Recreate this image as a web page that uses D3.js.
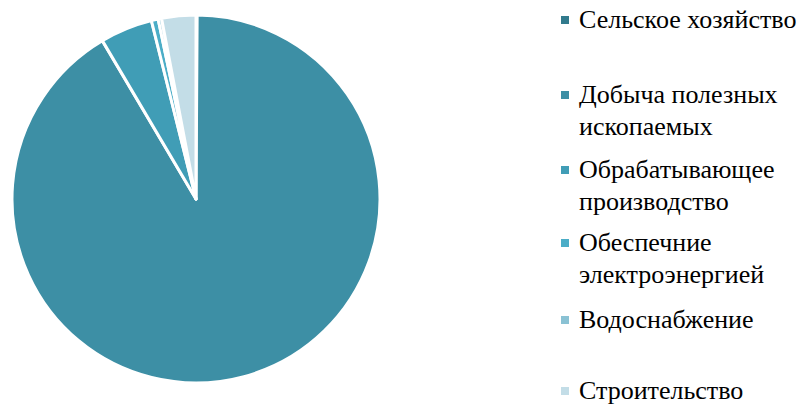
<!DOCTYPE html>
<html lang="ru"><head><meta charset="utf-8">
<script src="https://cdn.jsdelivr.net/npm/d3@7"></script>
<style>body{margin:0;background:#fff}</style>
</head><body>
<svg id="c" width="806" height="405"></svg>
<script>
const categories = ["Сельское хозяйство","Добыча полезных ископаемых","Обрабатывающее производство","Обеспечние электроэнергией","Водоснабжение","Строительство"];
const legendLines = [["Сельское хозяйство"],["Добыча полезных","ископаемых"],["Обрабатывающее","производство"],["Обеспечние","электроэнергией"],["Водоснабжение"],["Строительство"]];
const values = [0.1, 91.4, 4.6, 0.6, 0.3, 3.0];
const colors = ["#317A8D","#3D8FA5","#409DB6","#4BADC7","#8AC2D4","#C3DDE7"];

const svg = d3.select("#c");
const cx = 196, cy = 199, r = 184;
const pie = d3.pie().sort(null).value(d => d)(values);
const arc = d3.arc().innerRadius(0).outerRadius(r);
svg.append("g").attr("transform",`translate(${cx},${cy})`)
  .selectAll("path").data(pie).join("path")
  .attr("d", arc).attr("fill",(d,i)=>colors[i])
  .attr("stroke","#fff").attr("stroke-width",3).attr("stroke-linejoin","round");

const legY = [20, 95, 170, 243, 320, 391];
legendLines.forEach((lines,i)=>{
  svg.append("rect").attr("x",561).attr("y",legY[i]-4).attr("width",8).attr("height",8).attr("fill",colors[i]);
  lines.forEach((t,j)=>{
    svg.append("text").attr("x",579).attr("y",legY[i]+8+j*32)
      .style("font-family","'Liberation Serif','Tinos','Times New Roman',serif")
      .attr("font-size",26)
      .text(t);
  });
});
</script>
</body></html>
